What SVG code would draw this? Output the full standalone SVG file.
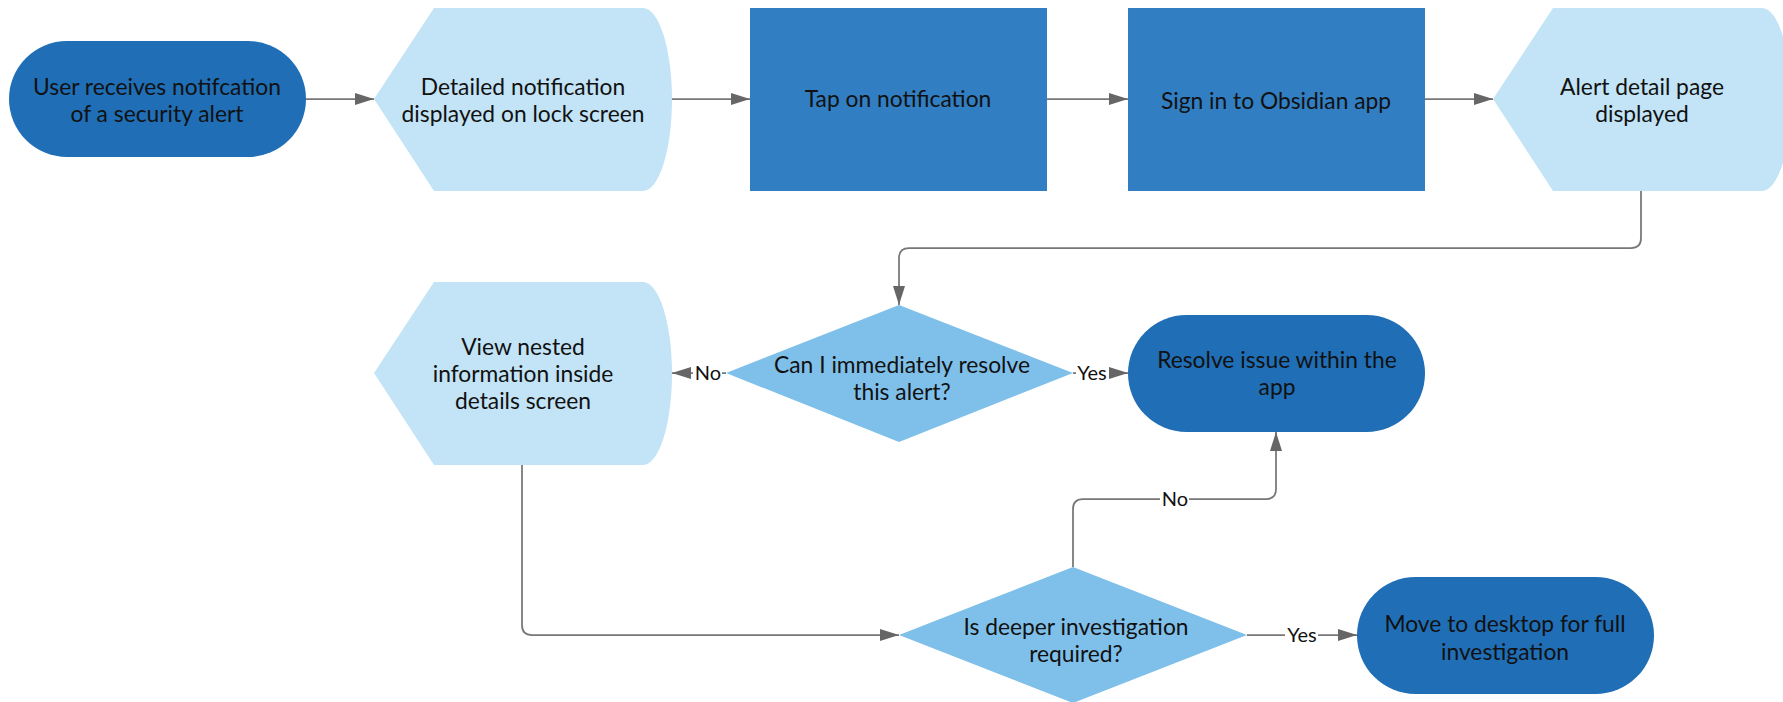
<svg xmlns="http://www.w3.org/2000/svg" width="1783" height="702" viewBox="0 0 1783 702">
  <style>
    .terminal { fill: #1f6eb6; }
    .process { fill: #327ec2; }
    .display { fill: #c2e4f6; }
    .decision { fill: #7fc0ea; }
    .label { font-family: Lato, "Liberation Sans", sans-serif; font-size: 22.8px; fill: #111; text-anchor: middle; }
    .edge { fill: none; stroke: #777; stroke-width: 1.75; }
    .edge-label { font-family: Lato, "Liberation Sans", sans-serif; font-size: 20px; fill: #111; text-anchor: middle; }
    .label-bg { fill: #fff; }
  </style>
  <defs>
    <marker id="arrow" markerUnits="userSpaceOnUse" markerWidth="20" markerHeight="13" refX="19" refY="6" orient="auto">
      <path d="M0,0 L19,6 L0,12 Z" fill="#666"/>
    </marker>
  </defs>

  <rect width="1783" height="702" fill="#fff"/>

  <g id="connectors">
    <path class="edge" d="M306,99 H374" marker-end="url(#arrow)"/>
    <path class="edge" d="M672,99 H750" marker-end="url(#arrow)"/>
    <path class="edge" d="M1047,99 H1128" marker-end="url(#arrow)"/>
    <path class="edge" d="M1425,99 H1493" marker-end="url(#arrow)"/>
    <path class="edge" d="M1641,191 V238 Q1641,248 1631,248 H909 Q899,248 899,258 V305" marker-end="url(#arrow)"/>
    <path class="edge" d="M726,373 H672" marker-end="url(#arrow)"/>
    <path class="edge" d="M1073,373 H1128" marker-end="url(#arrow)"/>
    <path class="edge" d="M522,465 V625 Q522,635 532,635 H899" marker-end="url(#arrow)"/>
    <path class="edge" d="M1073,567 V509 Q1073,499 1083,499 H1266 Q1276,499 1276,489 V432" marker-end="url(#arrow)"/>
    <path class="edge" d="M1247,635 H1357" marker-end="url(#arrow)"/>

    <rect class="label-bg" x="693" y="361" width="29" height="24"/>
    <text class="edge-label" x="708" y="380">No</text>
    <rect class="label-bg" x="1076" y="361" width="33" height="24"/>
    <text class="edge-label" x="1092" y="380">Yes</text>
    <rect class="label-bg" x="1160" y="487" width="29" height="24"/>
    <text class="edge-label" x="1175" y="506">No</text>
    <rect class="label-bg" x="1285" y="623" width="33" height="24"/>
    <text class="edge-label" x="1302" y="642">Yes</text>
  </g>

  <g id="node-receive">
    <rect class="terminal" x="9" y="41" width="297" height="116" rx="58" ry="58"/>
    <text class="label" x="157" y="95">User receives notifcation</text>
    <text class="label" x="157" y="122">of a security alert</text>
  </g>

  <g id="node-lockscreen">
    <path class="display" d="M434,8 H643 A29,91.5 0 0 1 643,191 H434 L374,99 Z"/>
    <text class="label" x="523" y="95">Detailed notification</text>
    <text class="label" x="523" y="122">displayed on lock screen</text>
  </g>

  <g id="node-tap">
    <rect class="process" x="750" y="8" width="297" height="183"/>
    <text class="label" x="898" y="107">Tap on notification</text>
  </g>

  <g id="node-signin">
    <rect class="process" x="1128" y="8" width="297" height="183"/>
    <text class="label" x="1276" y="109">Sign in to Obsidian app</text>
  </g>

  <g id="node-alert-detail">
    <path class="display" d="M1553,8 H1762 A29,91.5 0 0 1 1762,191 H1553 L1493,99 Z"/>
    <text class="label" x="1642" y="95">Alert detail page</text>
    <text class="label" x="1642" y="122">displayed</text>
  </g>

  <g id="node-can-resolve">
    <path class="decision" d="M899,305 L1073,373 L899,442 L726,373 Z"/>
    <text class="label" x="902" y="373">Can I immediately resolve</text>
    <text class="label" x="902" y="400">this alert?</text>
  </g>

  <g id="node-nested-info">
    <path class="display" d="M434,282 H643 A29,91.5 0 0 1 643,465 H434 L374,373 Z"/>
    <text class="label" x="523" y="355">View nested</text>
    <text class="label" x="523" y="382">information inside</text>
    <text class="label" x="523" y="409">details screen</text>
  </g>

  <g id="node-resolve">
    <rect class="terminal" x="1128" y="315" width="297" height="117" rx="58.5" ry="58.5"/>
    <text class="label" x="1277" y="368">Resolve issue within the</text>
    <text class="label" x="1277" y="395">app</text>
  </g>

  <g id="node-deeper">
    <path class="decision" d="M1073,567 L1247,635 L1073,703 L899,635 Z"/>
    <text class="label" x="1076" y="635">Is deeper investigation</text>
    <text class="label" x="1076" y="662">required?</text>
  </g>

  <g id="node-desktop">
    <rect class="terminal" x="1357" y="577" width="297" height="117" rx="58.5" ry="58.5"/>
    <text class="label" x="1505" y="632">Move to desktop for full</text>
    <text class="label" x="1505" y="660">investigation</text>
  </g>
</svg>
